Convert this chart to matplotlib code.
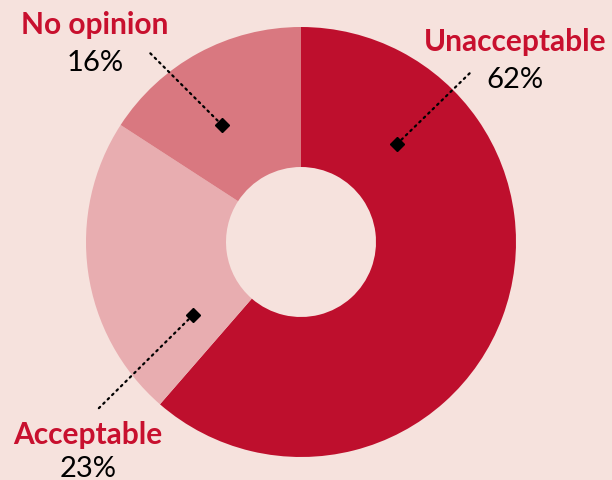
import matplotlib
matplotlib.use("Agg")
import matplotlib.pyplot as plt
import numpy as np

categories = ["Unacceptable", "Acceptable", "No opinion"]
values = [62, 23, 16]
pct_labels = ["62%", "23%", "16%"]
colors = ["#BE0F2D", "#E8ADB0", "#D97880"]

# annotation geometry (pixel coords, y measured from top)
marker_pos = [(397, 145), (193, 316), (222, 126)]
line_end = [(472, 72), (97, 411), (148, 52)]
label_pos = [(515, 42), (88, 435), (95, 25)]
pct_pos = [(515, 80), (88, 469), (95, 63)]

W, H = 612, 481
bg = "#F6E2DD"
fig = plt.figure(figsize=(W / 100, H / 100), dpi=100, facecolor=bg)
ax = fig.add_axes([0, 0, 1, 1])
ax.set_facecolor(bg)


def fy(y):
    return H - y


ax.pie(values, colors=colors, startangle=90, counterclock=False,
       center=(301, fy(243)), radius=215, frame=True,
       wedgeprops=dict(width=140, linewidth=0))
ax.set_xlim(0, W)
ax.set_ylim(0, H)
ax.set_aspect("auto")
ax.axis("off")

font = ["Lato", "DejaVu Sans"]
for i in range(3):
    mx, my = marker_pos[i]
    ex, ey = line_end[i]
    ax.plot([mx, ex], [fy(my), fy(ey)], color="black", linewidth=1.6,
            linestyle=(0, (0.8, 2.0)), dash_capstyle="round", zorder=5)
    ax.plot([mx], [fy(my)], marker="D", color="black", markersize=7, zorder=6)
    ax.text(label_pos[i][0], fy(label_pos[i][1]), categories[i], ha="center",
            va="center", fontsize=21.5, fontweight="bold", color="#C8102E",
            family=font)
    ax.text(pct_pos[i][0], fy(pct_pos[i][1]), pct_labels[i], ha="center",
            va="center", fontsize=21, color="black", family=font)

fig.savefig("out.png", dpi=100, facecolor=bg)
